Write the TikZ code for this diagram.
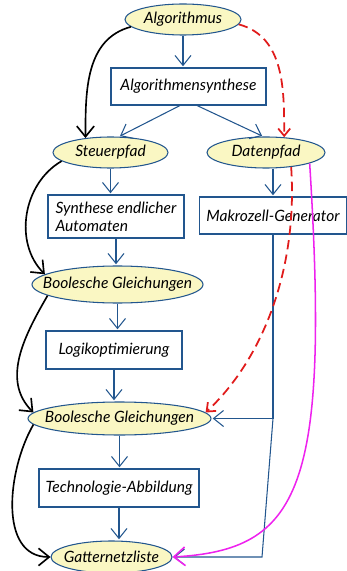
\documentclass[tikz,border=0pt]{standalone}
\usepackage{fontspec}
\setmainfont{Lato}
\usetikzlibrary{arrows.meta,shapes.geometric}
\definecolor{flowblue}{HTML}{22568E}
\definecolor{stagefill}{HTML}{FAF7C3}
\definecolor{datared}{HTML}{E01B1B}
\definecolor{netpink}{HTML}{EE22EE}

\begin{document}
\begin{tikzpicture}[
  x=0.03cm, y=0.03cm,
  font=\fontsize{13.3}{15.5}\selectfont\itshape,
  stage/.style={ellipse, draw=flowblue, fill=stagefill, line width=0.9pt, inner sep=-1.5cm},
  task/.style={draw=flowblue, fill=white, line width=0.9pt, inner sep=2pt},
  arrow/.style={-{Straight Barb[length=3mm, width=4.8mm]}, draw=flowblue, line width=0.9pt, shorten >=1pt},
  ctrl/.style={-{Straight Barb[length=3.2mm, width=5.2mm]}, draw=black, line width=1.4pt},
  datalink/.style={-{Straight Barb[length=2.2mm, width=3.6mm]}, draw=datared, line width=1.5pt, dash pattern=on 8pt off 4.5pt},
  netlink/.style={-{Straight Barb[length=3.4mm, width=5.6mm]}, draw=netpink, line width=1.3pt}
]
\useasboundingbox (0,0) rectangle (347,-571);

\node[stage, minimum width=3.48cm, minimum height=0.93cm] (alg) at (183,-19.5) {Algorithmus};
\node[task, minimum width=4.65cm, minimum height=1.11cm] (syn) at (188.5,-86.5) {Algorithmensynthese};
\node[stage, minimum width=3.45cm, minimum height=0.93cm] (steu) at (110.5,-152.5) {Steuerpfad};
\node[stage, minimum width=3.54cm, minimum height=0.93cm] (dat) at (266,-152.5) {Datenpfad};
\node[task, minimum width=4.08cm, minimum height=1.29cm, align=left] (sea) at (116,-216.5) {Synthese endlicher\\Automaten};
\node[task, minimum width=4.41cm, minimum height=1.11cm] (mak) at (273,-215.5) {Makrozell-Generator};
\node[stage, minimum width=5.13cm, minimum height=1.11cm] (bg1) at (117.5,-284.5) {Boolesche Gleichungen};
\node[task, minimum width=4.08cm, minimum height=1.14cm] (logik) at (114,-350) {Logikoptimierung};
\node[stage, minimum width=5.49cm, minimum height=0.99cm] (bg2) at (119.5,-418.5) {Boolesche Gleichungen};
\node[task, minimum width=4.8cm, minimum height=1.14cm] (tech) at (119,-488) {Technologie-Abbildung};
\node[stage, minimum width=3.63cm, minimum height=0.96cm] (gat) at (111.5,-557) {Gatternetzliste};

\foreach \a/\b in {alg/syn,steu/sea,sea/bg1,bg1/logik,logik/bg2,bg2/tech,tech/gat}
  \draw[arrow] (\a.south) -- (\a.south |- \b.north);
\draw[arrow] ([xshift=-0.255cm]syn.south) -- (steu.62);
\draw[arrow] ([xshift=0.255cm]syn.south) -- (dat.100);
\draw[arrow] (dat.south -| mak.north) -- (mak.north);

% Makrozellen feed both equation and netlist levels
\coordinate (tap) at (mak.south |- bg2.east);
\coordinate (drop) at (262,-557);
\draw[arrow] (mak.south) -- (tap) -- (bg2.east);
\draw[arrow] (tap) -- (drop) -- (gat.east);

\draw[ctrl] (alg.188) to[out=195, in=90] (steu.150);
\draw[ctrl] (steu.190) to[out=210, in=135] (bg1.172);
\draw[ctrl] (bg1.189) to[out=240, in=135] (bg2.176);
\draw[ctrl] (bg2.184) to[out=240, in=180] (gat.west);

\draw[datalink] (alg.-5) to[out=-15, in=90] (dat.40);
\draw[datalink] (dat.-30) .. controls (298,-270) and (262,-360) .. (bg2.4);
\draw[netlink] (dat.-14) .. controls (330,-490) and (300,-550) .. (gat.east);
\end{tikzpicture}
\end{document}
